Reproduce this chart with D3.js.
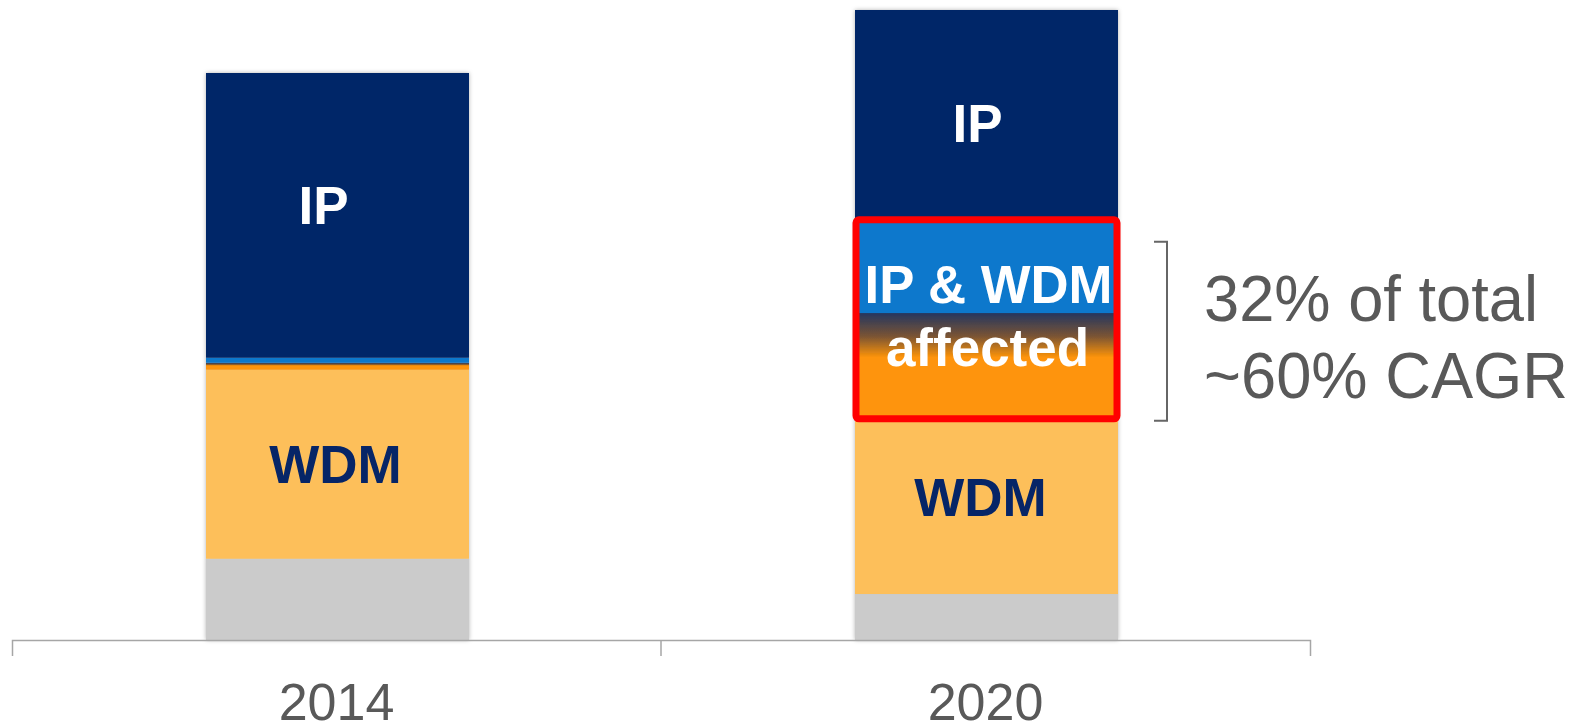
<!DOCTYPE html>
<html>
<head>
<meta charset="utf-8">
<script src="https://cdn.jsdelivr.net/npm/d3@7"></script>
<style>
  html, body { margin: 0; padding: 0; background: #ffffff; }
  svg { display: block; font-family: "Liberation Sans", Arial, sans-serif; }
</style>
</head>
<body>
<svg id="chart" width="1578" height="724"></svg>
<script>
// data (units: share of the 2020 total = 100)
var years = ['2014', '2020'];
var seriesKeys = ['other', 'wdm', 'wdmAffected', 'ipAffected', 'ip'];
var otherValues = [12.9, 7.3];
var wdmValues = [30.0, 27.8];
var wdmAffectedValues = [1.1, 16.8];
var ipAffectedValues = [0.8, 14.8];
var ipValues = [45.2, 33.3];
var noteLines = ['32% of total', '~60% CAGR'];

var colors = {
  other: '#cbcbcb',
  wdm: '#fdbf5a',
  wdmAffected: 'url(#affectedGrad)',
  ipAffected: '#0878cc',
  ip: '#062567'
};

var svg = d3.select('#chart'),
  axisY = 640,
  topY = 10;

// build rows for the stack
var rows = years.map(function (yr, i) {
  return {
    year: yr,
    other: otherValues[i],
    wdm: wdmValues[i],
    wdmAffected: wdmAffectedValues[i],
    ipAffected: ipAffectedValues[i],
    ip: ipValues[i]
  };
});

var x = d3.scaleBand().domain(years).range([12, 1310]).paddingInner(0).paddingOuter(0);
var y = d3.scaleLinear().domain([0, 100]).range([axisY, topY]);
var barW = 263;
function barX(yr) { return x(yr) + x.bandwidth() / 2 - barW / 2 + 1; }

var defs = svg.append('defs');
var grad = defs.append('linearGradient')
  .attr('id', 'affectedGrad')
  .attr('x1', 0).attr('y1', 0).attr('x2', 0).attr('y2', 1);
grad.append('stop').attr('offset', '0%').attr('stop-color', '#24365f');
grad.append('stop').attr('offset', '22%').attr('stop-color', '#7a5434');
grad.append('stop').attr('offset', '42%').attr('stop-color', '#fe9408');
grad.append('stop').attr('offset', '100%').attr('stop-color', '#fe9408');

var shadow = defs.append('filter').attr('id', 'shadow')
  .attr('x', '-5%').attr('y', '-5%').attr('width', '110%').attr('height', '110%');
shadow.append('feDropShadow')
  .attr('dx', 0).attr('dy', 0).attr('stdDeviation', 2)
  .attr('flood-color', '#000').attr('flood-opacity', 0.3);

var stack = d3.stack().keys(seriesKeys);
var series = stack(rows);

// bars
var barG = svg.append('g').attr('filter', 'url(#shadow)');
barG.selectAll('g.layer')
  .data(series)
  .enter()
  .append('g')
  .attr('class', 'layer')
  .attr('fill', function (d) { return colors[d.key]; })
  .selectAll('rect')
  .data(function (d) { return d; })
  .enter()
  .append('rect')
  .attr('x', function (d) { return barX(d.data.year); })
  .attr('width', barW)
  .attr('y', function (d) { return y(d[1]); })
  .attr('height', function (d) { return y(d[0]) - y(d[1]); });

// axis
var axis = d3.axisBottom(x).tickSize(0).tickSizeOuter(16).tickPadding(0);
var axisG = svg.append('g')
  .attr('transform', 'translate(0,' + axisY + ')')
  .call(axis);
axisG.select('.domain').attr('stroke', '#a6a6a6').attr('stroke-width', 1.5);
axisG.selectAll('.tick line').remove();
axisG.selectAll('.tick text')
  .attr('y', 80)
  .attr('dy', 0)
  .attr('fill', '#595959')
  .style('font-size', '52px')
  .style('font-family', '"Liberation Sans", Arial, sans-serif');
// divider tick between the two categories
axisG.append('line')
  .attr('x1', x('2020')).attr('x2', x('2020'))
  .attr('y1', 0).attr('y2', 16)
  .attr('stroke', '#a6a6a6').attr('stroke-width', 1.5);

// segment labels
function segMid(key, i) {
  var s = series.find(function (d) { return d.key === key; })[i];
  return (y(s[0]) + y(s[1])) / 2;
}
var labels = [
  { text: 'IP', year: '2014', key: 'ip', i: 0, dx: -14, nudge: -10, color: '#ffffff' },
  { text: 'WDM', year: '2014', key: 'wdm', i: 0, dx: -2, nudge: 0, color: '#062567' },
  { text: 'IP', year: '2020', key: 'ip', i: 1, dx: -9, nudge: 8, color: '#ffffff' },
  { text: 'WDM', year: '2020', key: 'wdm', i: 1, dx: -6, nudge: -9, color: '#062567' }
];
svg.selectAll('text.seg')
  .data(labels)
  .enter()
  .append('text')
  .attr('class', 'seg')
  .attr('x', function (d) { return x(d.year) + x.bandwidth() / 2 + 1 + d.dx; })
  .attr('y', function (d) { return segMid(d.key, d.i) + d.nudge + 19; })
  .attr('text-anchor', 'middle')
  .attr('fill', function (d) { return d.color; })
  .style('font-weight', 'bold')
  .style('font-size', '53px')
  .text(function (d) { return d.text; });

// highlight box around the affected part of 2020
var hiTop = y(series[3][1][1]),
  hiBot = y(series[2][1][0]),
  cx2020 = x('2020') + x.bandwidth() / 2 + 1;
svg.append('rect')
  .attr('x', barX('2020') + 1)
  .attr('y', hiTop)
  .attr('width', barW - 2)
  .attr('height', hiBot - hiTop)
  .attr('rx', 3)
  .attr('fill', 'none')
  .attr('stroke', '#ff0000')
  .attr('stroke-width', 7);

svg.append('text')
  .attr('x', cx2020 + 2)
  .attr('y', 303)
  .attr('text-anchor', 'middle')
  .attr('fill', '#ffffff')
  .attr('textLength', 248)
  .attr('lengthAdjust', 'spacingAndGlyphs')
  .style('font-weight', 'bold')
  .style('font-size', '54px')
  .text('IP & WDM');
svg.append('text')
  .attr('x', cx2020 + 1)
  .attr('y', 366)
  .attr('text-anchor', 'middle')
  .attr('fill', '#ffffff')
  .style('font-weight', 'bold')
  .style('font-size', '53px')
  .text('affected');

// bracket
var bx = 1167, bTop = hiTop + 22, bBot = hiBot + 2;
svg.append('path')
  .attr('d', 'M' + (bx - 13) + ',' + bTop + 'H' + bx + 'V' + bBot + 'H' + (bx - 13))
  .attr('fill', 'none')
  .attr('stroke', '#666666')
  .attr('stroke-width', 2);

// note text
svg.selectAll('text.note')
  .data(noteLines)
  .enter()
  .append('text')
  .attr('class', 'note')
  .attr('x', 1204)
  .attr('y', function (d, i) { return 321 + i * 77; })
  .attr('fill', '#595959')
  .attr('textLength', function (d, i) { return i === 0 ? 334 : 364; })
  .attr('lengthAdjust', 'spacingAndGlyphs')
  .style('font-size', '64px')
  .text(function (d) { return d; });
</script>
</body>
</html>
